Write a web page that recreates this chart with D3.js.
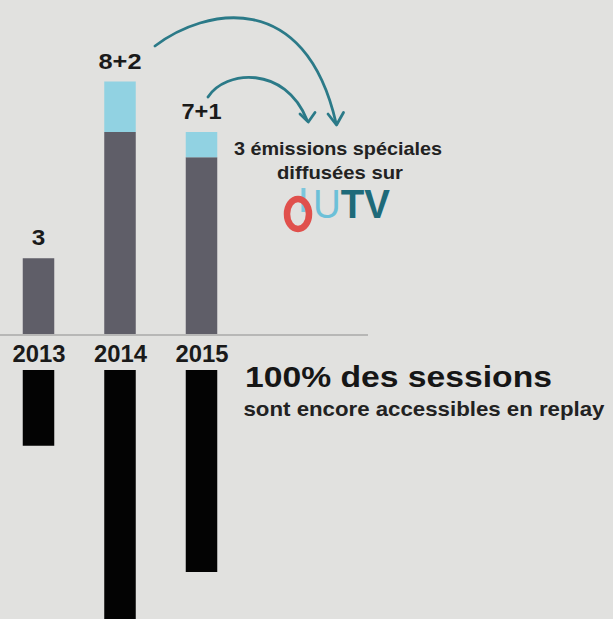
<!DOCTYPE html>
<html>
<head>
<meta charset="utf-8">
<script src="https://cdn.jsdelivr.net/npm/d3@7"></script>
<style>
  html, body { margin: 0; padding: 0; background: #e1e1df; }
  svg { display: block; }
  text { font-family: "Liberation Sans", Arial, Helvetica, sans-serif; }
</style>
</head>
<body>
<script>
// ---- data ----
const years = ["2013", "2014", "2015"];
const regularShows = [3, 8, 7];
const specialShows = [0, 2, 1];
const valueLabels = ["3", "8+2", "7+1"];
const replaySessions = [3, 10, 8];

const W = 613, H = 619;
const svg = d3.select("body").append("svg").attr("width", W).attr("height", H);
svg.append("rect").attr("width", W).attr("height", H).attr("fill", "#e1e1df");

const x = d3.scalePoint().domain(years).range([38.5, 201.5]);
const barW = 31.5;
const baseY = 334;
const yUp = d3.scaleLinear().domain([0, 10]).range([baseY, baseY - 252.5]);
const yDown = d3.scaleLinear().domain([0, 10]).range([370, 370 + 252.5]);

const rows = years.map((yr, i) => ({
  yr, reg: regularShows[i], spe: specialShows[i], lab: valueLabels[i], rep: replaySessions[i]
}));

// regular (dark) bars
svg.append("g").selectAll("rect").data(rows).join("rect")
  .attr("x", d => x(d.yr) - barW / 2)
  .attr("y", d => yUp(d.reg))
  .attr("width", barW)
  .attr("height", d => baseY - yUp(d.reg))
  .attr("fill", "#5f5e68");

// special (light blue) bars
svg.append("g").selectAll("rect").data(rows.filter(d => d.spe > 0)).join("rect")
  .attr("x", d => x(d.yr) - barW / 2)
  .attr("y", d => yUp(d.reg + d.spe))
  .attr("width", barW)
  .attr("height", d => yUp(d.reg) - yUp(d.reg + d.spe))
  .attr("fill", "#91d2e2");

// value labels
const labW = { "3": 13.5, "8+2": 43, "7+1": 40 };
svg.append("g").selectAll("text").data(rows).join("text")
  .attr("x", d => x(d.yr))
  .attr("y", d => yUp(d.reg + d.spe) - 13)
  .attr("text-anchor", "middle")
  .attr("font-size", 22.5)
  .attr("font-weight", "bold")
  .attr("fill", "#1a1a1a")
  .attr("textLength", d => labW[d.lab])
  .attr("lengthAdjust", "spacingAndGlyphs")
  .text(d => d.lab);

// baseline
svg.append("line")
  .attr("x1", 0).attr("x2", 368)
  .attr("y1", baseY + 1).attr("y2", baseY + 1)
  .attr("stroke", "#8d8d8d").attr("stroke-width", 1.2);

// year axis
const axis = svg.append("g")
  .attr("transform", `translate(0, ${baseY})`)
  .call(d3.axisBottom(x).tickSize(0).tickPadding(0));
axis.select(".domain").remove();
axis.selectAll("text")
  .attr("y", 28)
  .attr("dy", 0)
  .attr("font-size", 23.5)
  .attr("font-weight", "bold")
  .attr("font-family", "'Liberation Sans', Arial, sans-serif")
  .attr("fill", "#1a1a1a")
  .attr("textLength", 53)
  .attr("lengthAdjust", "spacingAndGlyphs");

// replay bars (downwards, black)
svg.append("g").selectAll("rect").data(rows).join("rect")
  .attr("x", d => x(d.yr) - barW / 2)
  .attr("y", yDown(0))
  .attr("width", barW)
  .attr("height", d => yDown(d.rep) - yDown(0))
  .attr("fill", "#030303");

// arrows
const teal = "#2b7a88";
const arrows = svg.append("g").attr("fill", "none").attr("stroke", teal)
  .attr("stroke-width", 2.8).attr("stroke-linecap", "round").attr("stroke-linejoin", "round");
arrows.append("path").attr("d", "M155,46 C205,8 305,-12 336,123");
arrows.append("path").attr("d", "M328,114 L336.5,125 L343.5,112.5");
arrows.append("path").attr("d", "M208,97 C225,70 285,65 307,120");
arrows.append("path").attr("d", "M300,114 L308.3,122 L315,112.5");

// annotation text
svg.append("text").attr("x", 338).attr("y", 155).attr("text-anchor", "middle")
  .attr("font-size", 19).attr("font-weight", "bold").attr("fill", "#222")
  .attr("textLength", 208).attr("lengthAdjust", "spacingAndGlyphs")
  .text("3 émissions spéciales");
svg.append("text").attr("x", 340).attr("y", 179).attr("text-anchor", "middle")
  .attr("font-size", 19).attr("font-weight", "bold").attr("fill", "#222")
  .attr("textLength", 126).attr("lengthAdjust", "spacingAndGlyphs")
  .text("diffusées sur");

// logo
svg.append("line").attr("x1", 303.5).attr("x2", 303.5).attr("y1", 188).attr("y2", 212)
  .attr("stroke", "#7cc6dc").attr("stroke-width", 4);
svg.append("ellipse").attr("cx", 298).attr("cy", 214).attr("rx", 11).attr("ry", 15)
  .attr("fill", "none").attr("stroke", "#e0504c").attr("stroke-width", 6.5);
const logo = svg.append("text").attr("x", 313).attr("y", 218)
  .attr("font-size", 40).attr("fill", "#1e6d7d")
  .attr("textLength", 77).attr("lengthAdjust", "spacingAndGlyphs");
logo.append("tspan").attr("fill", "#6cc0d8").text("U");
logo.append("tspan").attr("fill", "#1e6a79").attr("font-weight", "bold").text("TV");

// replay text
svg.append("text").attr("x", 245).attr("y", 387)
  .attr("font-size", 30).attr("font-weight", "bold").attr("fill", "#161616")
  .attr("textLength", 307).attr("lengthAdjust", "spacingAndGlyphs")
  .text("100% des sessions");
svg.append("text").attr("x", 243.5).attr("y", 415.5)
  .attr("font-size", 20.5).attr("font-weight", "bold").attr("fill", "#222")
  .attr("textLength", 361).attr("lengthAdjust", "spacingAndGlyphs")
  .text("sont encore accessibles en replay");
</script>
</body>
</html>
